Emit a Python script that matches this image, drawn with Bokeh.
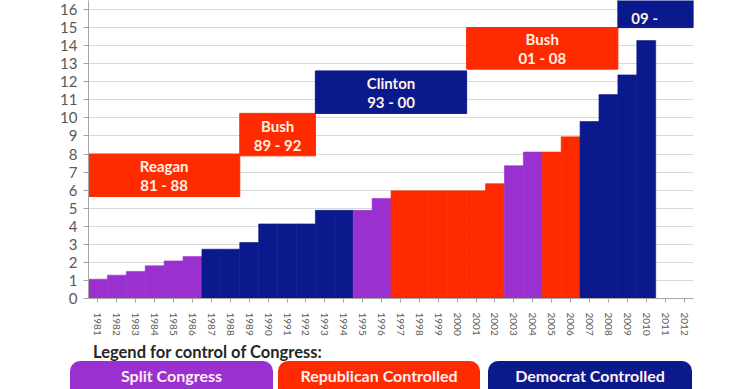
from bokeh.plotting import figure
from bokeh.models import Range1d, FixedTicker, Div
from bokeh.layouts import column
from bokeh.core.properties import value
from bokeh.embed import file_html
from bokeh.resources import INLINE

# ---- data ----
years = list(range(1981, 2011))
debt = [1.07, 1.29, 1.50, 1.81, 2.08, 2.32, 2.73, 2.73, 3.10, 4.13,
        4.13, 4.13, 4.88, 4.88, 4.88, 5.54, 5.96, 5.96, 5.96, 5.96,
        5.96, 6.36, 7.35, 8.11, 8.11, 8.95, 9.80, 11.29, 12.38, 14.28]
control = (["Split"] * 6 + ["Democrat"] * 8 + ["Split"] * 2 + ["Republican"] * 6
           + ["Split"] * 2 + ["Republican"] * 2 + ["Democrat"] * 4)
tick_years = list(range(1981, 2013))
y_ticks = list(range(0, 17))

pres_names = ["Reagan", "Bush", "Clinton", "Bush", "Obama"]
pres_terms = ["81 - 88", "89 - 92", "93 - 00", "01 - 08", "09 -"]
pres_start = [1981, 1989, 1993, 2001, 2009]
pres_end = [1988, 1992, 2000, 2008, 2012]
pres_bottom = [5.65, 7.9, 10.25, 12.7, 15.0]
pres_top = [8.0, 10.25, 12.6, 15.0, 17.5]
pres_party = ["Republican", "Republican", "Democrat", "Republican", "Democrat"]

legend_title = "Legend for control of Congress:"
legend_names = ["Split Congress", "Republican Controlled", "Democrat Controlled"]
legend_keys = ["Split", "Republican", "Democrat"]

palette = {"Split": "#9B30D0", "Republican": "#FF2A00", "Democrat": "#0A1A8C"}
FONT = value("Lato")

# ---- layout geometry (pixels) ----
W = 740
H_CHART = 340
H_LEG = 389 - H_CHART
FL, FR, FT, FB = 88, 693, 0, 298
X0, X1, Y0, Y1 = 1980.5, 2012.5, 0.0, 16.5

p = figure(width=W, height=H_CHART, x_range=Range1d(X0, X1), y_range=Range1d(Y0, Y1),
           output_backend="svg", toolbar_location=None,
           min_border_left=FL, min_border_right=W - FR, min_border_top=FT,
           min_border_bottom=H_CHART - FB)

bar_colors = [palette[c] for c in control]
p.vbar(x=years, top=debt, bottom=0, width=1.0, fill_color=bar_colors, line_color=bar_colors, line_width=0.6)

box_colors = [palette[c] for c in pres_party]
p.quad(left=[s - 0.5 for s in pres_start], right=[e + 0.5 for e in pres_end],
       bottom=pres_bottom, top=pres_top, fill_color=box_colors, line_color=box_colors)

centers = [(s + e) / 2 for s, e in zip(pres_start, pres_end)]
mids = [(b + t) / 2 for b, t in zip(pres_bottom, pres_top)]
txt = dict(text_font=FONT, text_font_style="bold", text_font_size="15px", text_align="center",
           text_baseline="middle", text_color="#FFF1E4")
# the last name lies above the picture's top edge in the original, only its years show
p.text(x=centers[:4], y=mids[:4], text=pres_names[:4], y_offset=-9, **txt)
p.text(x=centers[:4], y=mids[:4], text=pres_terms[:4], y_offset=10, **txt)
p.text(x=[centers[4]], y=[pres_bottom[4]], text=[pres_terms[4]], x_offset=-11, y_offset=-10, **txt)

p.xaxis.ticker = FixedTicker(ticks=tick_years)
p.xaxis.major_label_overrides = {y: str(y) for y in tick_years}
p.xaxis.major_label_orientation = "vertical"
p.xaxis.major_label_text_font = "Lato"
p.xaxis.major_label_text_font_size = "10px"
p.xaxis.major_label_text_color = "#595959"
p.xaxis.major_label_standoff = 10
p.xaxis.axis_line_color = "#a6a6a6"
p.xaxis.major_tick_line_color = "#a6a6a6"
p.xaxis.major_tick_out = 4
p.xaxis.major_tick_in = 0
p.xaxis.minor_tick_line_color = None

p.yaxis.ticker = FixedTicker(ticks=y_ticks)
p.yaxis.major_label_text_font = "Lato"
p.yaxis.major_label_text_font_size = "15px"
p.yaxis.major_label_text_color = "#595959"
p.yaxis.major_label_standoff = 6
p.yaxis.axis_line_color = "#a6a6a6"
p.yaxis.major_tick_line_color = "#a6a6a6"
p.yaxis.major_tick_out = 5
p.yaxis.major_tick_in = 0
p.yaxis.minor_tick_line_color = None

p.xgrid.grid_line_color = None
p.ygrid.grid_line_color = "#d9d9d9"
p.outline_line_color = None

# ---- legend for control of Congress (boxes run off the bottom edge, as in the original) ----
box_px = [(70, 273), (278, 480), (488, 692)]
parts = [f'<div style="position:absolute;left:93px;top:2px;font-size:16.5px;line-height:20px;'
         f'color:#262626;white-space:nowrap;">{legend_title}</div>']
for (l, r), key, name in zip(box_px, legend_keys, legend_names):
    parts.append(
        f'<div style="position:absolute;left:{l}px;top:21px;width:{r - l}px;height:60px;'
        f'background:{palette[key]};border-radius:10px;"></div>'
        f'<div style="position:absolute;left:{l}px;top:27px;width:{r - l}px;text-align:center;'
        f'font-size:16px;line-height:18px;color:#FFEFF5;white-space:nowrap;">{name}</div>')
html = (f'<div style="position:relative;width:{W}px;height:{H_LEG}px;overflow:hidden;'
        f'font-family:Lato;font-weight:bold;margin:0;padding:0;">' + "".join(parts) + '</div>')
legend_div = Div(text=html, width=W, height=H_LEG, margin=0)

layout = column(p, legend_div, spacing=0)
open("out.html", "w").write(file_html(layout, INLINE))
